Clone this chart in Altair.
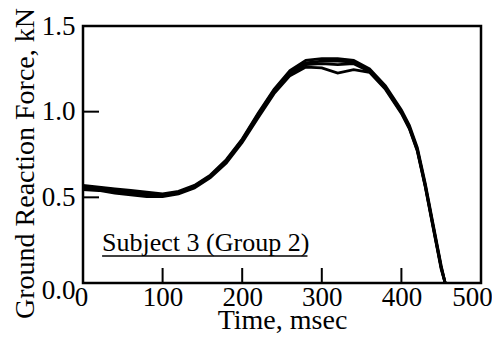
import altair as alt
import pandas as pd

# ---- data ----
time_ms = [0, 20, 40, 60, 80, 100, 120, 140, 160, 180, 200, 220, 240, 260, 280,
           300, 320, 340, 360, 380, 400, 410, 420, 430, 440, 450, 455]
trial_1 = [0.57, 0.56, 0.55, 0.54, 0.53, 0.52, 0.535, 0.57, 0.63, 0.72, 0.84, 0.99, 1.13, 1.24, 1.30,
           1.31, 1.31, 1.30, 1.25, 1.15, 1.01, 0.92, 0.79, 0.58, 0.34, 0.10, 0.0]
trial_2 = [0.56, 0.555, 0.545, 0.53, 0.52, 0.515, 0.53, 0.565, 0.625, 0.715, 0.835, 0.985, 1.125, 1.23, 1.285,
           1.295, 1.295, 1.29, 1.24, 1.14, 1.00, 0.91, 0.78, 0.57, 0.33, 0.09, 0.0]
trial_3 = [0.55, 0.545, 0.535, 0.52, 0.51, 0.51, 0.525, 0.56, 0.62, 0.71, 0.83, 0.975, 1.115, 1.22, 1.275,
           1.28, 1.275, 1.28, 1.235, 1.135, 0.995, 0.905, 0.775, 0.565, 0.325, 0.09, 0.0]
trial_4 = [0.545, 0.54, 0.525, 0.515, 0.505, 0.505, 0.52, 0.555, 0.615, 0.70, 0.82, 0.965, 1.105, 1.21, 1.26,
           1.255, 1.225, 1.245, 1.23, 1.13, 0.99, 0.90, 0.77, 0.56, 0.32, 0.08, 0.0]

x_ticks = [0, 100, 200, 300, 400, 500]
y_ticks = [0.0, 0.5, 1.0, 1.5]
inner_x_ticks = [100, 200, 300, 400]
inner_y_ticks = [0.5, 1.0]

note_text = ["Subject 3 (Group 2)"]
note_time = [24]
note_force = [0.186]
underline_time = [24]
underline_time2 = [282]
underline_force = [0.157]

FONT = "Liberation Serif"

rows = []
for name, vals in [("1", trial_1), ("2", trial_2), ("3", trial_3), ("4", trial_4)]:
    for t, f in zip(time_ms, vals):
        rows.append({"trial": name, "time": t, "force": f})
df = pd.DataFrame(rows)

xscale = alt.Scale(domain=[0, 500], nice=False, zero=False)
yscale = alt.Scale(domain=[0, 1.5], nice=False, zero=False)

x_label_offset = "datum.value == 0 ? -2 : (datum.value == 500 ? -9 : 0)"

lines = alt.Chart(df).mark_line(color="black", strokeWidth=2.8).encode(
    x=alt.X("time:Q", scale=xscale,
            axis=alt.Axis(title="Time, msec", values=x_ticks, format="d", grid=False,
                          domain=False, ticks=False, tickSize=0, labelPadding=1,
                          labelFlush=False,
                          labelOffset={"condition": [{"test": "datum.value == 0", "value": -2},
                                                     {"test": "datum.value == 500", "value": -9}],
                                       "value": 0},
                          labelFont=FONT, labelFontSize=27, labelColor="black",
                          titleFont=FONT, titleFontSize=28, titleFontWeight="normal",
                          titleColor="black", titleY=45, titleBaseline="alphabetic")),
    y=alt.Y("force:Q", scale=yscale,
            axis=alt.Axis(title="Ground Reaction Force, kN", values=y_ticks, format=".1f",
                          grid=False, domain=False, ticks=False, tickSize=0, labelPadding=8,
                          labelFlush=False,
                          labelOffset={"condition": {"test": "datum.value == 0", "value": 7}, "value": 0},
                          labelFont=FONT, labelFontSize=27, labelColor="black",
                          titleFont=FONT, titleFontSize=28, titleFontWeight="normal",
                          titleColor="black", titleX=-50, titleY=137, titleAngle=-90,
                          titleAlign="center", titleBaseline="alphabetic")),
    detail="trial:N",
)

xt = alt.Chart(pd.DataFrame({"time": inner_x_ticks})).mark_rule(color="black", strokeWidth=2).encode(
    x=alt.X("time:Q", scale=xscale), y=alt.value(257), y2=alt.value(242))

yt = alt.Chart(pd.DataFrame({"force": inner_y_ticks})).mark_rule(color="black", strokeWidth=2).encode(
    y=alt.Y("force:Q", scale=yscale), x=alt.value(0), x2=alt.value(16))

note = alt.Chart(pd.DataFrame({"time": note_time, "force": note_force, "label": note_text})).mark_text(
    font=FONT, fontSize=26, align="left", baseline="alphabetic", color="black").encode(
    x=alt.X("time:Q", scale=xscale), y=alt.Y("force:Q", scale=yscale), text="label:N")

uline = alt.Chart(pd.DataFrame({"time": underline_time, "time2": underline_time2,
                                "force": underline_force})).mark_rule(color="black", strokeWidth=1.5).encode(
    x=alt.X("time:Q", scale=xscale), x2="time2:Q", y=alt.Y("force:Q", scale=yscale))

chart = alt.layer(lines, xt, yt, note, uline).properties(
    width=398, height=257,
    padding={"left": 75, "top": 18, "right": 11, "bottom": 51},
    autosize=alt.AutoSizeParams(type="none"),
    background="white",
).configure_view(stroke="black", strokeWidth=2.5)

chart.save("out.html", embed_options={"renderer": "svg", "actions": False})
